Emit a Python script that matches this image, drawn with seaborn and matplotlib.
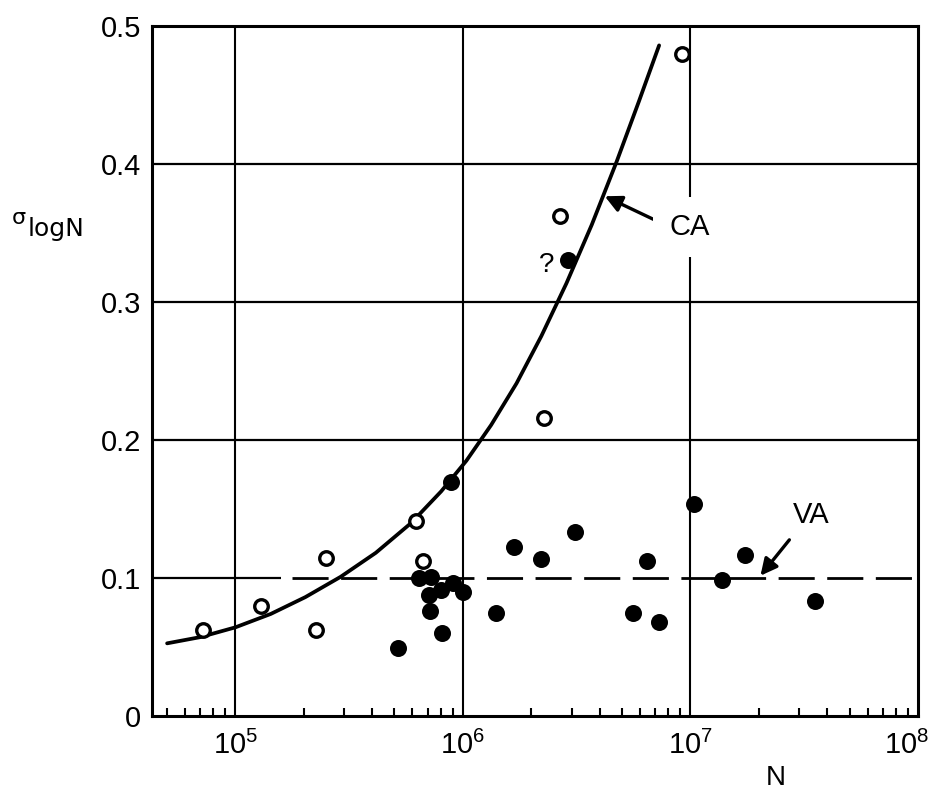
import numpy as np
import pandas as pd
import matplotlib
matplotlib.use("Agg")
import matplotlib.pyplot as plt
from matplotlib.ticker import FixedLocator, FixedFormatter, LogLocator, NullFormatter
from matplotlib.transforms import ScaledTranslation
import seaborn as sns

# ---------------- data ----------------
open_N = [7.2e4, 1.29e5, 2.25e5, 2.49e5, 6.2e5, 6.7e5, 2.26e6, 2.66e6, 9.2e6]
open_sigma = [0.063, 0.080, 0.063, 0.115, 0.142, 0.113, 0.216, 0.363, 0.480]

filled_N = [5.19e5, 6.41e5, 7.24e5, 7.1e5, 7.17e5, 8.0e5, 8.1e5, 9.06e5, 1.0e6,
            8.87e5, 1.40e6, 1.67e6, 2.21e6, 3.10e6, 2.91e6, 5.58e6, 6.44e6,
            7.28e6, 1.04e7, 1.38e7, 1.74e7, 3.54e7]
filled_sigma = [0.0495, 0.100, 0.101, 0.088, 0.0765, 0.0917, 0.0606, 0.097, 0.090,
                0.170, 0.075, 0.123, 0.114, 0.134, 0.331, 0.075, 0.113,
                0.0687, 0.154, 0.099, 0.117, 0.084]

ca_N = [5.01e4, 7.01e4, 1.00e5, 1.43e5, 2.03e5, 2.90e5, 4.14e5, 5.91e5, 8.02e5,
        1.035e6, 1.33e6, 1.72e6, 2.21e6, 2.85e6, 3.68e6, 4.74e6, 5.93e6, 7.28e6]
ca_sigma = [0.0530, 0.0575, 0.0646, 0.0743, 0.0865, 0.1012, 0.1186, 0.1401, 0.1631,
            0.1853, 0.2112, 0.2414, 0.2756, 0.3139, 0.3562, 0.4022, 0.4456, 0.4863]

va_level = 0.1

x_ticks = [1e5, 1e6, 1e7, 1e8]
x_tick_labels = [r"$10^5$", r"$10^6$", r"$10^7$", r"$10^8$"]
y_ticks = [0, 0.1, 0.2, 0.3, 0.4, 0.5]
y_tick_labels = ["0", "0.1", "0.2", "0.3", "0.4", "0.5"]

# ---------------- style ----------------
sns.set_style("white")
plt.rcParams["font.family"] = ["Liberation Sans", "DejaVu Sans"]
plt.rcParams["mathtext.fontset"] = "custom"
plt.rcParams["mathtext.rm"] = "Liberation Sans"
plt.rcParams["mathtext.it"] = "Liberation Sans"
plt.rcParams["mathtext.default"] = "rm"
plt.rcParams["text.color"] = "black"
plt.rcParams["xtick.color"] = "black"
plt.rcParams["ytick.color"] = "black"
plt.rcParams["axes.labelcolor"] = "black"

fig = plt.figure(figsize=(9.32, 7.93), dpi=100)
ax = fig.add_axes([0.1631, 0.0965, 0.8219, 0.8701])
ax.set_xscale("log")
xmin, xmax = 4.3e4, 1e8
ax.set_xlim(xmin, xmax)
ax.set_ylim(0, 0.5)

# grid lines
for xv in x_ticks[:-1]:
    ax.axvline(xv, color="black", lw=1.5, zorder=1)
for yv in y_ticks[2:-1]:
    ax.axhline(yv, color="black", lw=1.6, zorder=1)
ax.hlines(va_level, xmin, 1.58e5, color="black", lw=1.6, zorder=1)

# VA dashed line
ax.plot([1.78e5, xmax], [va_level, va_level], color="black", lw=2.0,
        dashes=(13, 4.5), zorder=2)

# CA curve
df_ca = pd.DataFrame({"N": ca_N, "sigma": ca_sigma})
sns.lineplot(data=df_ca, x="N", y="sigma", sort=False, estimator=None,
             color="black", lw=2.7, ax=ax, zorder=3)

# points
df_open = pd.DataFrame({"N": open_N, "sigma": open_sigma})
df_fill = pd.DataFrame({"N": filled_N, "sigma": filled_sigma})
sns.scatterplot(data=df_open, x="N", y="sigma", marker="o", s=95, color="white",
                edgecolor="black", linewidth=2.4, ax=ax, zorder=4)
sns.scatterplot(data=df_fill, x="N", y="sigma", marker="o", s=150, color="black",
                edgecolor="black", linewidth=0, ax=ax, zorder=5)

# ticks
ax.xaxis.set_major_locator(FixedLocator(x_ticks))
ax.xaxis.set_major_formatter(FixedFormatter(x_tick_labels))
ax.xaxis.set_minor_locator(LogLocator(base=10, subs=np.arange(2, 10), numticks=20))
ax.xaxis.set_minor_formatter(NullFormatter())
ax.tick_params(axis="x", which="major", length=0, pad=10, labelsize=21)
ax.tick_params(axis="x", which="minor", direction="in", length=6, width=1.5,
               bottom=True, color="black")
ax.set_yticks(y_ticks)
ax.set_yticklabels(y_tick_labels)
ax.tick_params(axis="y", length=0, pad=8, labelsize=21)
ax.set_xlabel("")
ax.set_ylabel("")

for sp in ax.spines.values():
    sp.set_linewidth(2.2)
    sp.set_color("black")

# keep the last x tick label inside the figure, as in the reference
last_lbl = ax.xaxis.get_major_ticks()[-1].label1
last_lbl.set_transform(last_lbl.get_transform() +
                       ScaledTranslation(-0.11, 0, fig.dpi_scale_trans))

# annotations
arrow_style = dict(arrowstyle="-|>,head_length=1.0,head_width=0.5",
                   lw=2.4, color="black", shrinkA=0, shrinkB=0)
ax.annotate("", xy=(4.2e6, 0.377), xytext=(7.13e6, 0.359),
            arrowprops=arrow_style, zorder=6)
ax.text(8.05e6, 0.355, "CA", ha="left", va="center", fontsize=21, zorder=6,
        bbox=dict(boxstyle="square,pad=0.55", fc="white", ec="none"))
ax.annotate("", xy=(2.03e7, 0.102), xytext=(2.72e7, 0.128),
            arrowprops=arrow_style, zorder=6)
ax.text(3.4e7, 0.146, "VA", ha="center", va="center", fontsize=21, zorder=6)
ax.text(2.33e6, 0.327, "?", ha="center", va="center", fontsize=20, zorder=6)

# axis labels
fig.text(776 / 932, 1 - 778 / 793, "N", ha="center", va="center", fontsize=20)
fig.text(12 / 932, 1 - 224 / 793, "σ", ha="left", va="baseline", fontsize=16,
         family="DejaVu Sans")
fig.text(28 / 932, 1 - 236 / 793, "logN", ha="left", va="baseline", fontsize=18,
         family="DejaVu Sans")

fig.savefig("out.png", dpi=100, facecolor="white")
